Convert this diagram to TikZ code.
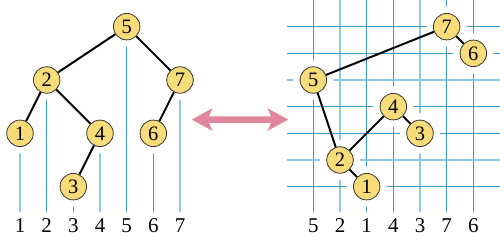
\documentclass[tikz,border=0pt]{standalone}
\usepackage{fontspec}
\setmainfont{Liberation Serif}
\definecolor{nodefill}{HTML}{F9DC7A}
\definecolor{thinblue}{HTML}{3D98D0}
\definecolor{thickblue}{HTML}{8CC8EA}
\definecolor{arrowpink}{HTML}{E0879F}
\tikzset{
  keynode/.style={circle, draw=black!80, line width=0.8pt, fill=nodefill, minimum size=26.5pt, inner sep=0pt, font=\fontsize{20.5}{20.5}\selectfont},
  halo/.style={circle, fill=white, minimum size=40pt, inner sep=0pt},
  treeedge/.style={line width=2pt, black},
  thinline/.style={thinblue, line width=1pt},
  thickline/.style={thickblue, line width=2.2pt},
  axislabel/.style={font=\fontsize{21}{21}\selectfont, inner sep=0pt},
}
\begin{document}
\begin{tikzpicture}[x=1pt,y=-1pt]
\useasboundingbox (0,0) rectangle (500,240);
% ---- positions, left tree
\coordinate (p1) at (20,133.33);
\coordinate (p2) at (46.67,80);
\coordinate (p3) at (73.33,186.67);
\coordinate (p4) at (100,133.33);
\coordinate (p5) at (126.67,26.67);
\coordinate (p6) at (153.33,133.33);
\coordinate (p7) at (180,80);
% ---- positions, right grid
\coordinate (q7) at (446.67,26.67);
\coordinate (q6) at (473.33,53.33);
\coordinate (q5) at (313.33,80);
\coordinate (q4) at (393.33,106.67);
\coordinate (q3) at (420,133.33);
\coordinate (q2) at (340,160);
\coordinate (q1) at (366.67,186.67);
% ---- reference coordinates
\coordinate (top) at (0,0);
\coordinate (bot) at (0,212);
\coordinate (lab) at (0,225.5);
\coordinate (gl) at (286.67,0);
\coordinate (gr) at (500,0);
% ---- left vertical lines
\draw[thickline] (p1) -- (p1 |- bot);
\draw[thinline]  (p2) -- (p2 |- bot);
\draw[thinline]  (p3) -- (p3 |- bot);
\draw[thickline] (p4) -- (p4 |- bot);
\draw[thinline]  (p5) -- (p5 |- bot);
\draw[thinline]  (p6) -- (p6 |- bot);
\draw[thickline] (p7) -- (p7 |- bot);
% ---- right grid, vertical
\draw[thinline]  (q5 |- top) -- (q5 |- bot);
\draw[thickline] (q2 |- top) -- (q2 |- bot);
\draw[thinline]  (q1 |- top) -- (q1 |- bot);
\draw[thinline]  (q4 |- top) -- (q4 |- bot);
\draw[thickline] (q3 |- top) -- (q3 |- bot);
\draw[thinline]  (q7 |- top) -- (q7 |- bot);
\draw[thinline]  (q6 |- top) -- (q6 |- bot);
% ---- right grid, horizontal
\draw[thinline]  (gl |- q7) -- (gr |- q7);
\draw[thinline]  (gl |- q6) -- (gr |- q6);
\draw[thickline] (gl |- q5) -- (gr |- q5);
\draw[thinline]  (gl |- q4) -- (gr |- q4);
\draw[thinline]  (gl |- q3) -- (gr |- q3);
\draw[thickline] (gl |- q2) -- (gr |- q2);
\draw[thinline]  (gl |- q1) -- (gr |- q1);
% ---- halos
\foreach \k in {1,...,7} {
  \node[halo] (hp\k) at (p\k) {};
  \node[halo] (hq\k) at (q\k) {};
}
% ---- key nodes
\foreach \k in {1,...,7} {
  \node[keynode] (L\k) at (p\k) {\k};
  \node[keynode] (R\k) at (q\k) {\k};
}
% ---- edges
\draw[treeedge] (L5) -- (L2);
\draw[treeedge] (L5) -- (L7);
\draw[treeedge] (L2) -- (L1);
\draw[treeedge] (L2) -- (L4);
\draw[treeedge] (L4) -- (L3);
\draw[treeedge] (L7) -- (L6);
\draw[treeedge] (R7) -- (R5);
\draw[treeedge] (R7) -- (R6);
\draw[treeedge] (R5) -- (R2);
\draw[treeedge] (R2) -- (R4);
\draw[treeedge] (R2) -- (R1);
\draw[treeedge] (R4) -- (R3);
% ---- axis labels
\foreach \k in {1,...,7} {
  \node[axislabel] (a\k) at (p\k |- lab) {\k};
  \node[axislabel] (b\k) at (q\k |- lab) {\k};
}
% ---- double arrow
\fill[arrowpink] (191.7,119.6) -- (212.5,108.3) -- (209,116.3) -- (271,116.3) -- (267.5,108.3)
  -- (288.3,119.6) -- (267.5,130.9) -- (271,122.9) -- (209,122.9) -- (212.5,130.9) -- cycle;
\end{tikzpicture}
\end{document}
